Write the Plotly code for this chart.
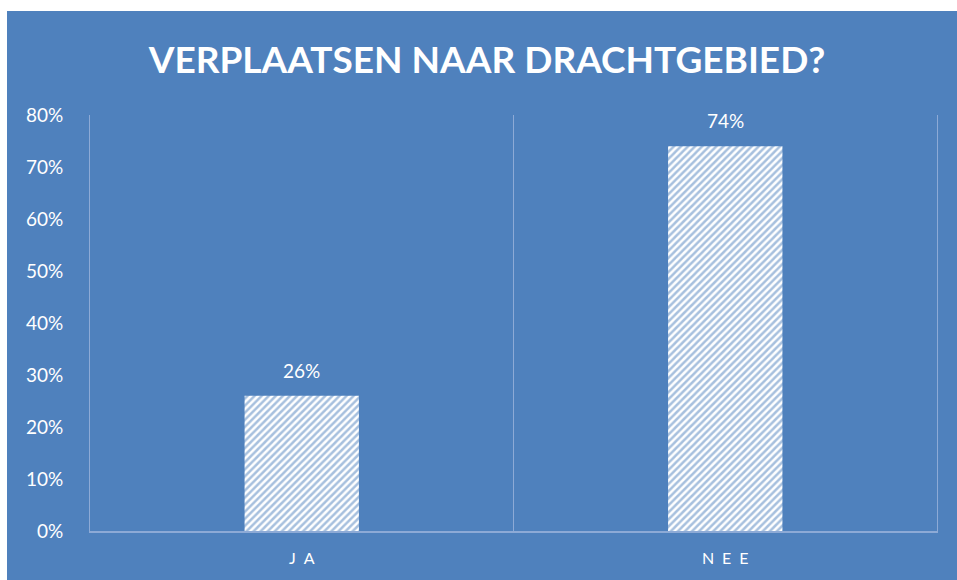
import plotly.graph_objects as go

categories = ["JA", "NEE"]
tick_labels = ["J\u2002A", "N\u2002E\u2002E"]
values = [0.26, 0.74]
value_labels = ["26%", "74%"]
title_text = "VERPLAATSEN NAAR DRACHTGEBIED?"

BLUE = "#4F81BD"
GRID = "#8DAAD6"
W, H = 957, 580
ML, MR, MT, MB = 90, 20, 115, 49
pw, ph = W - ML - MR, H - MT - MB

fig = go.Figure()
fig.add_trace(go.Bar(
    x=categories, y=values,
    marker=dict(color="white", line=dict(width=0),
                pattern=dict(shape="/", fgcolor=BLUE, bgcolor="white",
                             size=5, solidity=0.5, fillmode="overlay")),
    hoverinfo="skip",
))

for c, v, t in zip(categories, values, value_labels):
    fig.add_annotation(x=c, y=v, text=t, showarrow=False, yanchor="bottom",
                       yshift=12, font=dict(family="Lato, sans-serif", size=19, color="white"))

# thin white border at top and left
fig.add_shape(type="rect", xref="paper", yref="paper", layer="below",
              x0=-ML / pw - 0.01, x1=(W - ML) / pw + 0.01,
              y0=(H - MB - 11) / ph, y1=(H - MB + 5) / ph,
              fillcolor="white", line=dict(width=0))
fig.add_shape(type="rect", xref="paper", yref="paper", layer="below",
              x0=-ML / pw - 0.01, x1=(7 - ML) / pw,
              y0=-MB / ph - 0.02, y1=(H - MB + 5) / ph,
              fillcolor="white", line=dict(width=0))

fig.update_layout(
    width=W, height=H,
    margin=dict(l=ML, r=MR, t=MT, b=MB),
    paper_bgcolor=BLUE, plot_bgcolor="rgba(0,0,0,0)",
    bargap=0.73, showlegend=False,
    title=dict(text="<b>" + title_text + "</b>", x=487 / W, xref="container", xanchor="center",
               y=1 - 60 / H, yanchor="middle",
               font=dict(family="Lato, sans-serif", size=37, color="white")),
    font=dict(family="Lato, sans-serif", color="white"),
)
fig.update_xaxes(
    type="category", tickson="boundaries", showgrid=True, gridcolor=GRID, gridwidth=1,
    tickvals=categories, ticktext=tick_labels, ticks="", showline=True, linecolor=GRID,
    linewidth=1.5, tickfont=dict(size=16, color="white"), ticklabelstandoff=12,
    zeroline=False, range=[-0.5, 1.5],
)
fig.update_yaxes(
    range=[0, 0.8], dtick=0.1, tickformat=".0%", showgrid=False, zeroline=False,
    showline=True, mirror=True, linecolor=GRID, linewidth=1,
    ticks="", tickfont=dict(size=19, color="white"), ticklabelstandoff=22,
)

fig.write_html("out.html", config={"displayModeBar": False},
               post_script="document.body.style.margin='0px';document.body.style.overflow='hidden';")
